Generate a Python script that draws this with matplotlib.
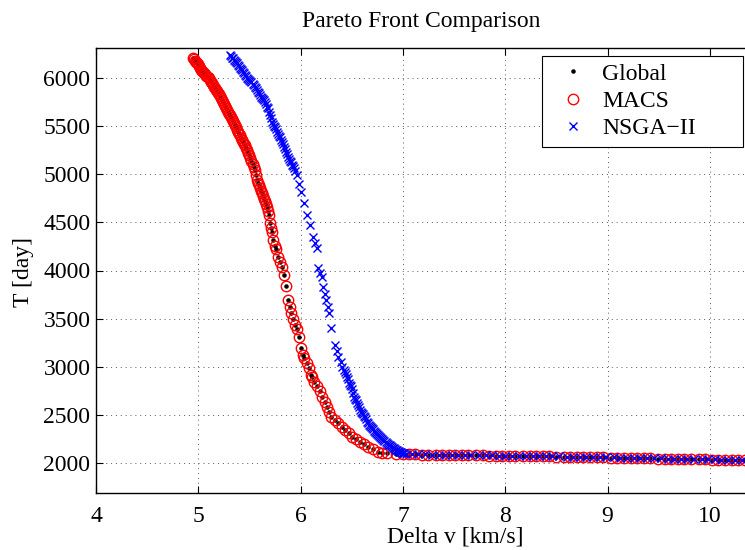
import matplotlib
matplotlib.use("Agg")
import matplotlib.pyplot as plt

# ---------------- data ----------------
macs_dv = [4.95, 4.96, 4.97, 4.98, 4.99, 5.00, 5.01, 5.02, 5.03, 5.04, 5.05, 5.06,
           5.07, 5.08, 5.09, 5.10, 5.11, 5.12, 5.13, 5.14, 5.15, 5.16, 5.17, 5.18,
           5.19, 5.20, 5.21, 5.22, 5.23, 5.24, 5.25, 5.26, 5.27, 5.28, 5.29, 5.30,
           5.31, 5.32, 5.33, 5.34, 5.35, 5.36, 5.37, 5.38, 5.39, 5.40, 5.41, 5.42,
           5.43, 5.44, 5.45, 5.46, 5.47, 5.48, 5.49, 5.50, 5.51, 5.52, 5.53, 5.54,
           5.55, 5.56, 5.57, 5.58, 5.59, 5.60, 5.61, 5.62, 5.63, 5.64, 5.65, 5.66,
           5.67, 5.68, 5.69, 5.70, 5.71, 5.72, 5.73, 5.75, 5.76, 5.78, 5.80, 5.82,
           5.84, 5.86, 5.88, 5.90, 5.91, 5.93, 5.95, 5.96, 5.98, 6.00, 6.02, 6.03,
           6.06, 6.08, 6.10, 6.11, 6.13, 6.16, 6.19, 6.21, 6.24, 6.26, 6.28, 6.30,
           6.34, 6.37, 6.40, 6.43, 6.47, 6.50, 6.54, 6.58, 6.62, 6.66, 6.71, 6.76,
           6.80, 6.84, 6.93,
           7.00, 7.06, 7.12, 7.19, 7.25, 7.32, 7.38, 7.45, 7.51, 7.58, 7.64, 7.71,
           7.78, 7.84, 7.91, 7.97, 8.04, 8.10, 8.17, 8.24, 8.30, 8.37, 8.43, 8.50,
           8.57, 8.63, 8.70, 8.76, 8.83, 8.90, 8.96, 9.03, 9.09, 9.16, 9.23, 9.29,
           9.36, 9.42, 9.49, 9.56, 9.62, 9.69, 9.75, 9.82, 9.89, 9.95, 10.02, 10.08,
           10.15, 10.22, 10.28, 10.34]
macs_T = [6210, 6195, 6180, 6168, 6155, 6140, 6120, 6100, 6085, 6070, 6058, 6046,
          6035, 6022, 6008, 5994, 5978, 5962, 5945, 5928, 5910, 5892, 5875, 5860,
          5845, 5830, 5810, 5790, 5769, 5750, 5730, 5710, 5690, 5668, 5647, 5628,
          5610, 5590, 5570, 5550, 5530, 5509, 5485, 5460, 5440, 5422, 5405, 5380,
          5355, 5335, 5318, 5301, 5275, 5248, 5220, 5195, 5168, 5140, 5105, 5072,
          5040, 4990, 4938, 4910, 4885, 4860, 4830, 4800, 4773, 4747, 4720, 4690,
          4661, 4618, 4575, 4489, 4445, 4400, 4315, 4252, 4220, 4142, 4090, 4038,
          3950, 3840, 3693, 3625, 3555, 3495, 3433, 3395, 3312, 3191, 3120, 3087,
          3035, 2984, 2920, 2890, 2845, 2800, 2745, 2689, 2635, 2585, 2535, 2481,
          2447, 2413, 2378, 2343, 2308, 2274, 2248, 2222, 2196, 2170, 2144, 2118,
          2110, 2101, 2094,
          2095, 2092, 2090, 2089, 2088, 2087, 2086, 2085, 2084, 2083, 2082, 2081,
          2080, 2079, 2078, 2077, 2076, 2075, 2073, 2072, 2071, 2070, 2069, 2068,
          2067, 2066, 2065, 2063, 2062, 2061, 2060, 2058, 2057, 2055, 2054, 2052,
          2051, 2049, 2048, 2046, 2045, 2043, 2042, 2040, 2039, 2038, 2037, 2035,
          2033, 2031, 2030, 2028]

global_dv = list(macs_dv)
global_T = list(macs_T)

nsga_dv = [5.31, 5.33, 5.35, 5.37, 5.39, 5.41, 5.43, 5.45, 5.46, 5.49, 5.52, 5.55,
           5.57, 5.60, 5.62, 5.64, 5.66, 5.68, 5.70, 5.72, 5.75, 5.77, 5.80, 5.82,
           5.84, 5.86, 5.88, 5.91, 5.94, 5.96, 5.98, 6.00, 6.03, 6.06, 6.09, 6.12,
           6.14, 6.16, 6.17, 6.19, 6.21, 6.22, 6.24, 6.25, 6.27, 6.28, 6.30, 6.34,
           6.36, 6.37, 6.39, 6.40, 6.42, 6.44, 6.45, 6.47, 6.49, 6.50, 6.52, 6.54,
           6.55, 6.57, 6.58, 6.60, 6.62, 6.64, 6.65, 6.67, 6.69, 6.71, 6.73, 6.75,
           6.77, 6.79, 6.81, 6.83, 6.85, 6.87, 6.89, 6.91, 6.93, 6.95, 6.97, 7.00,
           7.03, 7.09, 7.15, 7.22, 7.28, 7.35, 7.41, 7.48, 7.54, 7.61, 7.67, 7.74,
           7.81, 7.87, 7.94, 8.00, 8.07, 8.13, 8.20, 8.27, 8.33, 8.40, 8.46, 8.53,
           8.60, 8.66, 8.73, 8.79, 8.86, 8.93, 8.99, 9.06, 9.12, 9.19, 9.26, 9.32,
           9.39, 9.45, 9.52, 9.59, 9.65, 9.72, 9.78, 9.85, 9.92, 9.98, 10.05, 10.11,
           10.18, 10.25, 10.31]
nsga_T = [6236, 6210, 6185, 6160, 6132, 6105, 6080, 6050, 6028, 5990, 5958, 5910,
          5872, 5820, 5795, 5769, 5725, 5682, 5610, 5543, 5490, 5439, 5385, 5336,
          5285, 5232, 5180, 5128, 5060, 4990, 4900, 4817, 4696, 4575, 4471, 4350,
          4290, 4229, 4021, 3970, 3934, 3831, 3760, 3693, 3620, 3555, 3399, 3225,
          3165, 3104, 3050, 3000, 2966, 2930, 2897, 2828, 2800, 2770, 2689, 2655,
          2620, 2585, 2551, 2520, 2490, 2460, 2430, 2400, 2375, 2350, 2326, 2303,
          2280, 2260, 2239, 2220, 2200, 2185, 2170, 2155, 2140, 2128, 2118, 2108,
          2100, 2093, 2091, 2090, 2089, 2088, 2087, 2086, 2085, 2084, 2083, 2082,
          2081, 2080, 2079, 2078, 2077, 2076, 2074, 2073, 2072, 2071, 2070, 2069,
          2068, 2067, 2066, 2064, 2063, 2062, 2061, 2059, 2058, 2056, 2055, 2053,
          2052, 2050, 2049, 2047, 2046, 2044, 2043, 2041, 2040, 2039, 2038, 2036,
          2034, 2032, 2031]

# additional scattered NSGA-II points in the dense parts of the front
nsga_extra_dv = [5.32, 5.34, 5.36, 5.38, 5.40, 5.42, 5.44, 5.47, 5.48, 5.50, 5.51,
                 5.53, 5.54, 5.56, 5.58, 5.59, 5.61, 5.63, 5.65, 5.67, 5.69, 5.71,
                 5.73, 5.74, 5.76, 5.78, 5.79, 5.81, 5.83, 5.85, 5.87, 5.89, 5.90,
                 5.92, 5.93, 5.95,
                 6.43, 6.46, 6.48, 6.51, 6.53, 6.56, 6.59, 6.61, 6.63, 6.66, 6.68,
                 6.70, 6.72, 6.74, 6.76, 6.78, 6.80, 6.82, 6.84, 6.86, 6.88, 6.90,
                 6.92, 6.94, 6.96, 6.98, 6.99, 7.01]
nsga_extra_T = [6225, 6205, 6170, 6150, 6120, 6095, 6060, 6015, 6000, 5975, 5965,
                5935, 5925, 5895, 5855, 5840, 5805, 5785, 5745, 5700, 5650, 5580,
                5520, 5505, 5465, 5412, 5400, 5360, 5310, 5260, 5205, 5160, 5140,
                5100, 5080, 5030,
                2950, 2870, 2815, 2730, 2670, 2600, 2535, 2505, 2475, 2415, 2388,
                2362, 2338, 2314, 2292, 2270, 2250, 2230, 2210, 2193, 2178, 2162,
                2148, 2134, 2123, 2113, 2110, 2104]

xticks = [4, 5, 6, 7, 8, 9, 10]
yticks = [2000, 2500, 3000, 3500, 4000, 4500, 5000, 5500, 6000]

# ---------------- figure ----------------
plt.rcParams['font.family'] = ['Liberation Serif', 'DejaVu Serif']
FS = 17

fig = plt.figure(figsize=(7.45, 5.5), dpi=100)
ax = fig.add_axes([96/745, 57/550, 649/745, 445/550])

ax.plot(global_dv, global_T, linestyle='none', marker='.', color='black',
        markersize=4.5, label='Global', zorder=3)
ax.plot(macs_dv, macs_T, linestyle='none', marker='o', markerfacecolor='none',
        markeredgecolor='red', markeredgewidth=1.0, markersize=7.5,
        label='MACS', zorder=4)
ax.plot(nsga_dv + nsga_extra_dv, nsga_T + nsga_extra_T, linestyle='none',
        marker='x', color='blue', markeredgewidth=1.0, markersize=6,
        label='NSGA\u2212II', zorder=5)

ax.set_xlim(4, 10.344)
ax.set_ylim(1690, 6310)
ax.set_xticks(xticks)
ax.set_yticks(yticks)
ax.tick_params(axis='both', which='both', direction='in', length=4.7,
               width=0.8, labelsize=FS, top=True, right=False)
ax.tick_params(axis='x', pad=9)
ax.tick_params(axis='y', pad=4)
ax.spines['right'].set_visible(False)
for s in ['left', 'bottom', 'top']:
    ax.spines[s].set_linewidth(1.0)

ax.grid(True, color='0.35', linestyle=(0, (1, 4)), linewidth=0.7)
ax.set_axisbelow(True)

fig.text(421/745, 1 - 22/550, 'Pareto Front Comparison', ha='center',
         va='center', fontsize=FS)
fig.text(455/745, 1 - 543/550, 'Delta v [km/s]', ha='center', va='baseline',
         fontsize=FS)
fig.text(24/745, 1 - 272/550, 'T [day]', ha='center', va='center',
         fontsize=FS, rotation=90)

x0 = (542 - 96) / 649
x1 = (743 - 96) / 649
ytop = 1 - 8 / 445
leg = ax.legend(loc='upper left', bbox_to_anchor=(x0, ytop - 0.2, x1 - x0, 0.2),
                mode='expand', fontsize=FS, frameon=True, fancybox=False,
                framealpha=1, edgecolor='black', borderpad=0.3,
                labelspacing=0.25, handlelength=2.0, handletextpad=0.25,
                borderaxespad=0)
leg.get_frame().set_linewidth(0.8)

fig.savefig('out.png', dpi=100)
